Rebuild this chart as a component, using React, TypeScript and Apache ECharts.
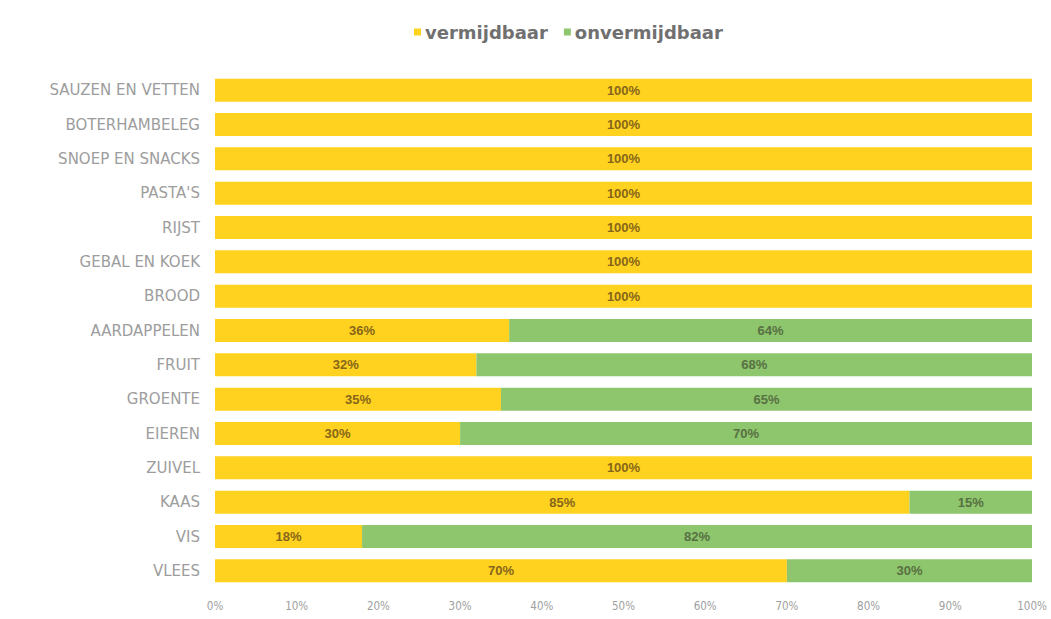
import React, { useEffect, useRef } from "react";
import * as echarts from "echarts";

const categories = [
  "VLEES",
  "VIS",
  "KAAS",
  "ZUIVEL",
  "EIEREN",
  "GROENTE",
  "FRUIT",
  "AARDAPPELEN",
  "BROOD",
  "GEBAL EN KOEK",
  "RIJST",
  "PASTA'S",
  "SNOEP EN SNACKS",
  "BOTERHAMBELEG",
  "SAUZEN EN VETTEN",
];
const vermijdbaar = [70, 18, 85, 100, 30, 35, 32, 36, 100, 100, 100, 100, 100, 100, 100];
const onvermijdbaar = [30, 82, 15, 0, 70, 65, 68, 64, 0, 0, 0, 0, 0, 0, 0];
const seriesNames = ["vermijdbaar", "onvermijdbaar"];

export default function App() {
  const ref = useRef<HTMLDivElement>(null);
  useEffect(() => {
    if (!ref.current) return;
    const chart = echarts.init(ref.current, null, { renderer: "svg" });
    const labelFmt = (p: any) => (p.value > 0 ? p.value + "%" : "");
    chart.setOption({
      animation: false,
      backgroundColor: "#ffffff",
      legend: {
        top: 18,
        left: 409,
        itemWidth: 7,
        itemHeight: 7,
        itemGap: 16,
        icon: "rect",
        textStyle: {
          color: "#707070",
          fontSize: 18,
          fontWeight: "bold",
          fontFamily: "DejaVu Sans",
          padding: [0, 0, 0, -1],
        },
        data: seriesNames,
      },
      grid: { left: 215, right: 19, top: 73, bottom: 31 },
      xAxis: {
        type: "value",
        min: 0,
        max: 100,
        interval: 10,
        axisLine: { show: false },
        axisTick: { show: false },
        splitLine: { show: false },
        axisLabel: {
          formatter: "{value}%",
          color: "#a0a0a0",
          fontSize: 11.5,
          fontFamily: "DejaVu Sans Condensed",
          margin: 12,
        },
      },
      yAxis: {
        type: "category",
        data: categories,
        axisLine: { show: false },
        axisTick: { show: false },
        axisLabel: {
          color: "#9d9d9d",
          fontSize: 15,
          fontFamily: "DejaVu Sans",
          margin: 15,
        },
      },
      series: [
        {
          name: seriesNames[0],
          type: "bar",
          stack: "total",
          barWidth: 23,
          data: vermijdbaar,
          itemStyle: { color: "#FFD21F" },
          label: {
            show: true,
            position: "inside",
            formatter: labelFmt,
            color: "#86661a",
            fontSize: 13,
            fontWeight: "bold",
            fontFamily: "Liberation Sans",
          },
        },
        {
          name: seriesNames[1],
          type: "bar",
          stack: "total",
          barWidth: 23,
          data: onvermijdbaar,
          itemStyle: { color: "#8DC66C" },
          label: {
            show: true,
            position: "inside",
            formatter: labelFmt,
            color: "#587043",
            fontSize: 13,
            fontWeight: "bold",
            fontFamily: "Liberation Sans",
          },
        },
      ],
    });
    return () => chart.dispose();
  }, []);
  return (
    <div
      ref={ref}
      style={{ position: "absolute", left: 0, top: 0, width: 1051, height: 619 }}
    />
  );
}
